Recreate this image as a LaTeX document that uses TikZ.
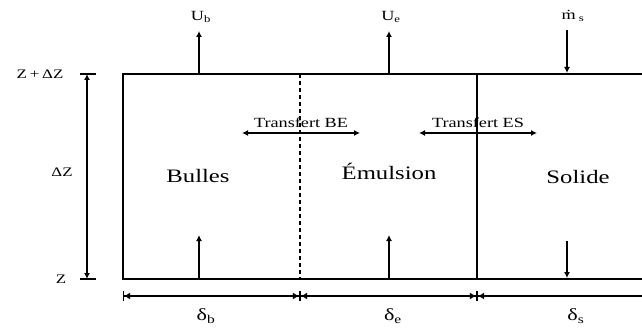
\documentclass[tikz,border=0pt]{standalone}
\usepackage{fontspec}
\setmainfont{Liberation Serif}
\usetikzlibrary{arrows.meta}
\tikzset{
  flux/.style={-{Latex[length=6pt,width=6pt]},line width=1.2pt},
  xfer/.style={{Latex[length=6pt,width=6pt]}-{Latex[length=6pt,width=6pt]},line width=1.2pt},
  cote/.style={{Bar[width=10pt]Latex[length=6pt,width=7pt]}-{Latex[length=6pt,width=7pt]Bar[width=10pt]},line width=1.1pt},
  zone/.style={inner sep=0pt,xscale=1.3,font=\fontsize{19}{21}\selectfont},
  lbl/.style={inner sep=0pt,xscale=1.3,font=\fontsize{14}{16}\selectfont},
}

\begin{document}
\begin{tikzpicture}[x=1pt,y=-1pt,line width=1.1pt]
  \useasboundingbox (0,0) rectangle (642,331);
  \clip (0,0) rectangle (642,331);
  % corners of the bed slice
  \coordinate (tl) at (123,74);
  \coordinate (br) at (660,279);
  \coordinate (bet) at (300,74);  \coordinate (beb) at (300,279);
  \coordinate (est) at (477,74);  \coordinate (esb) at (477,279);
  \draw (tl) rectangle (br);
  \draw[dash pattern=on 4pt off 3pt] (bet) -- (beb);
  \draw (est) -- (esb);
  % phases
  \node[zone] (bul) at (198,176) {Bulles};
  \node[zone] (emu) at (389,171) {Émulsion};
  \node[zone] (sol) at (578,177) {Solide};
  % flows at top
  \coordinate (ub0) at (199,74);  \coordinate (ub1) at (199,31);
  \coordinate (ue0) at (389,74);  \coordinate (ue1) at (389,31);
  \coordinate (ms0) at (567,30);  \coordinate (ms1) at (567,73);
  \draw[flux] (ub0) -- (ub1);
  \draw[flux] (ue0) -- (ue1);
  \draw[flux] (ms0) -- (ms1);
  \node[lbl] (ub) at (201,17) {U\textsubscript{b}};
  \node[lbl] (ue) at (391,17) {U\textsubscript{e}};
  \node[lbl] (ms) at (573,16) {ṁ\,\textsubscript{s}};
  % flows at bottom
  \coordinate (ib0) at (199,279); \coordinate (ib1) at (199,235);
  \coordinate (ie0) at (389,279); \coordinate (ie1) at (389,235);
  \coordinate (is0) at (567,241); \coordinate (is1) at (567,278);
  \draw[flux] (ib0) -- (ib1);
  \draw[flux] (ie0) -- (ie1);
  \draw[flux] (is0) -- (is1);
  % exchanges
  \coordinate (be0) at (242,133); \coordinate (be1) at (360,133);
  \coordinate (es0) at (419,133); \coordinate (es1) at (537,133);
  \draw[xfer] (be0) -- (be1);
  \draw[xfer] (es0) -- (es1);
  \node[lbl] (tbe) at (301,123) {Transfert BE};
  \node[lbl] (tes) at (478,123) {Transfert ES};
  % height
  \coordinate (h0) at (87,74);  \coordinate (h1) at (87,279);
  \draw (80,74) -- (96,74);
  \draw (80,279) -- (96,279);
  \draw[xfer] (h0) -- (h1);
  \node[lbl,font=\fontsize{13}{15}\selectfont] (zdz) at (40,74) {Z\,+\,ΔZ};
  \node[lbl,font=\fontsize{13}{15}\selectfont] (dz) at (62,172) {ΔZ};
  \node[lbl,font=\fontsize{13}{15}\selectfont] (z) at (61,279) {Z};
  % widths
  \coordinate (w0) at (123,296); \coordinate (w1) at (300,296);
  \coordinate (w2) at (477,296); \coordinate (w3) at (660,296);
  \draw[cote] (w0) -- (w1);
  \draw[cote] (w1) -- (w2);
  \draw[cote] (w2) -- (w3);
  \node[lbl,font=\fontsize{17}{19}\selectfont] (db) at (206,316) {δ\textsubscript{b}};
  \node[lbl,font=\fontsize{17}{19}\selectfont] (de) at (393,316) {δ\textsubscript{e}};
  \node[lbl,font=\fontsize{17}{19}\selectfont] (ds) at (576,316) {δ\textsubscript{s}};
\end{tikzpicture}
\end{document}
